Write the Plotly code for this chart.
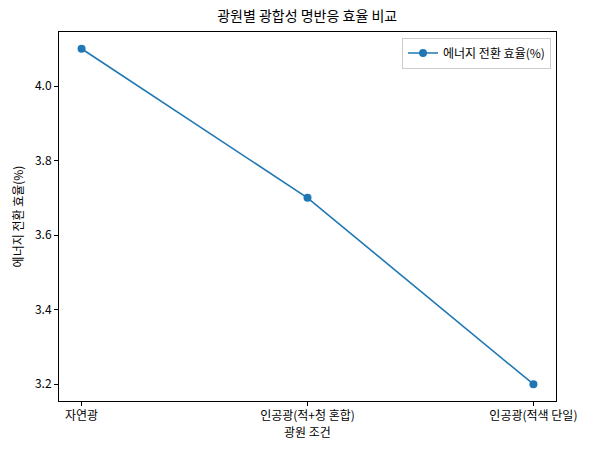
import plotly.graph_objects as go

# 광원 조건별 에너지 전환 효율
conditions = ["자연광", "인공광(적+청 혼합)", "인공광(적색 단일)"]
efficiency = [4.1, 3.7, 3.2]
y_ticks = [3.2, 3.4, 3.6, 3.8, 4.0]

font_kr = "Noto Sans CJK KR"
blue = "#1f77b4"

fig = go.Figure(
    go.Scatter(
        x=list(range(len(conditions))),
        y=efficiency,
        mode="lines+markers",
        name="에너지 전환 효율(%)",
        line={"color": blue, "width": 1.6},
        marker={"color": blue, "size": 8},
    )
)

axis_common = {
    "showline": True,
    "linecolor": "black",
    "linewidth": 1,
    "mirror": True,
    "showgrid": False,
    "zeroline": False,
    "automargin": False,
    "ticks": "outside",
    "ticklen": 4,
    "tickcolor": "black",
    "tickfont": {"family": font_kr, "size": 12, "color": "black"},
}

fig.update_layout(
    width=593,
    height=455,
    margin={"l": 59, "r": 37, "t": 32, "b": 54},
    paper_bgcolor="white",
    plot_bgcolor="white",
    font={"family": font_kr, "color": "black"},
    title={
        "text": "광원별 광합성 명반응 효율 비교",
        "x": 0.518,
        "xanchor": "center",
        "y": 0.965,
        "yanchor": "middle",
        "font": {"family": font_kr, "size": 14, "color": "black"},
    },
    xaxis={
        **axis_common,
        "range": [-0.1, 2.1],
        "tickmode": "array",
        "tickvals": list(range(len(conditions))),
        "ticktext": conditions,
        "title": {"text": "광원 조건", "font": {"family": font_kr, "size": 12}, "standoff": 4},
    },
    yaxis={
        **axis_common,
        "range": [3.155, 4.145],
        "tickmode": "array",
        "tickvals": y_ticks,
        "ticktext": [f"{v:.1f}" for v in y_ticks],
        "title": {"text": "에너지 전환 효율(%)", "font": {"family": font_kr, "size": 12}, "standoff": 8},
    },
    showlegend=True,
    legend={
        "x": 0.99,
        "y": 0.985,
        "xanchor": "right",
        "yanchor": "top",
        "bgcolor": "rgba(255,255,255,0.8)",
        "bordercolor": "#cccccc",
        "borderwidth": 1,
        "font": {"family": font_kr, "size": 12},
    },
)

# 페이지 여백 제거, 모드바 숨김
fig.write_html(
    "out.html",
    config={"displayModeBar": False},
    post_script="document.body.style.margin='0';",
)
